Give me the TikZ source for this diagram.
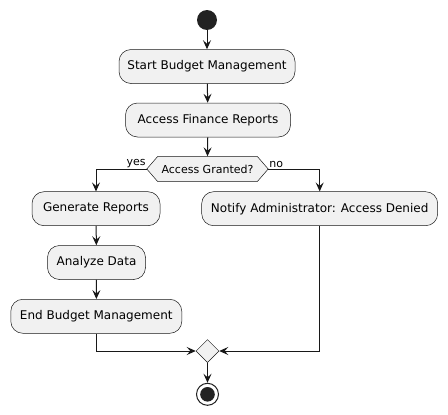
\documentclass[tikz,border=0pt]{standalone}
\usepackage{fontspec}
\setmainfont{DejaVu Sans}
\usetikzlibrary{arrows.meta,shapes.geometric,calc}
\definecolor{boxfill}{HTML}{F1F1F1}
\definecolor{ink}{HTML}{181818}
\definecolor{dot}{HTML}{222222}
\tikzset{
  act/.style={rectangle, rounded corners=12pt, draw=ink, line width=0.5pt, fill=boxfill,
    minimum height=34pt, inner sep=0pt, font=\fontsize{12}{14}\selectfont, text=black},
  flow/.style={draw=ink, line width=1pt, -{Stealth[length=9pt,width=8pt,inset=3.5pt]}},
  plain/.style={draw=ink, line width=1pt},
  lbl/.style={font=\fontsize{11}{13}\selectfont, inner sep=1pt, text=black},
}
\begin{document}
\begin{tikzpicture}[x=1pt,y=-1pt]
\useasboundingbox (0,0) rectangle (448,415);
\node[circle, fill=dot, minimum size=20pt, inner sep=0pt] (start) at (207,20) {};
\node[act, minimum width=176pt] (b1) at (207,66.5) {Start Budget Management};
\node[act, minimum width=165pt] (b2) at (208,120) {Access Finance Reports};
\node[rectangle, minimum width=121pt, minimum height=25pt, inner sep=0pt,
      font=\fontsize{11}{13}\selectfont] (dec) at (207.5,169) {Access Granted?};
\draw[fill=boxfill, draw=ink, line width=0.5pt]
  (dec.west) -- ($(dec.north west)+(11,0)$) -- ($(dec.north east)+(-11,0)$) -- (dec.east)
  -- ($(dec.south east)+(-11,0)$) -- ($(dec.south west)+(11,0)$) -- cycle;
\node[font=\fontsize{11}{13}\selectfont] at (dec.center) {Access Granted?};
\node[act, minimum width=128pt] (gen) at (96,208.7) {Generate Reports};
\node[act, minimum width=236pt] (notify) at (319.7,208.7) {Notify Administrator: Access Denied};
\node[act, minimum width=98pt] (ana) at (96.5,262.5) {Analyze Data};
\node[act, minimum width=171pt] (endb) at (96.3,316.3) {End Budget Management};
\node[diamond, draw=ink, line width=0.5pt, fill=boxfill, minimum width=23pt, minimum height=23pt, inner sep=0pt] (merge) at (207.5,351) {};
\node[circle, draw=dot, line width=1pt, fill=white, minimum size=22pt, inner sep=0pt] (stop) at (207.5,394.3) {};
\fill[dot] (stop.center) circle (7.3pt);

\draw[flow] (start) -- (b1);
\draw[flow] (b1) -- (b2);
\draw[flow] (b2) -- (dec.north);
\draw[flow] (dec.west) -| (gen.north);
\draw[flow] (dec.east) -| (notify.north);
\node[lbl, anchor=south east] at (dec.west) {yes};
\node[lbl, anchor=south west] at (dec.east) {no};
\draw[flow] (gen) -- (ana);
\draw[flow] (ana) -- (endb);
\draw[flow] (endb.south) |- (merge.west);
\draw[flow] (notify.south) |- (merge.east);
\draw[flow] (merge.south) -- (stop.north);
\end{tikzpicture}
\end{document}
